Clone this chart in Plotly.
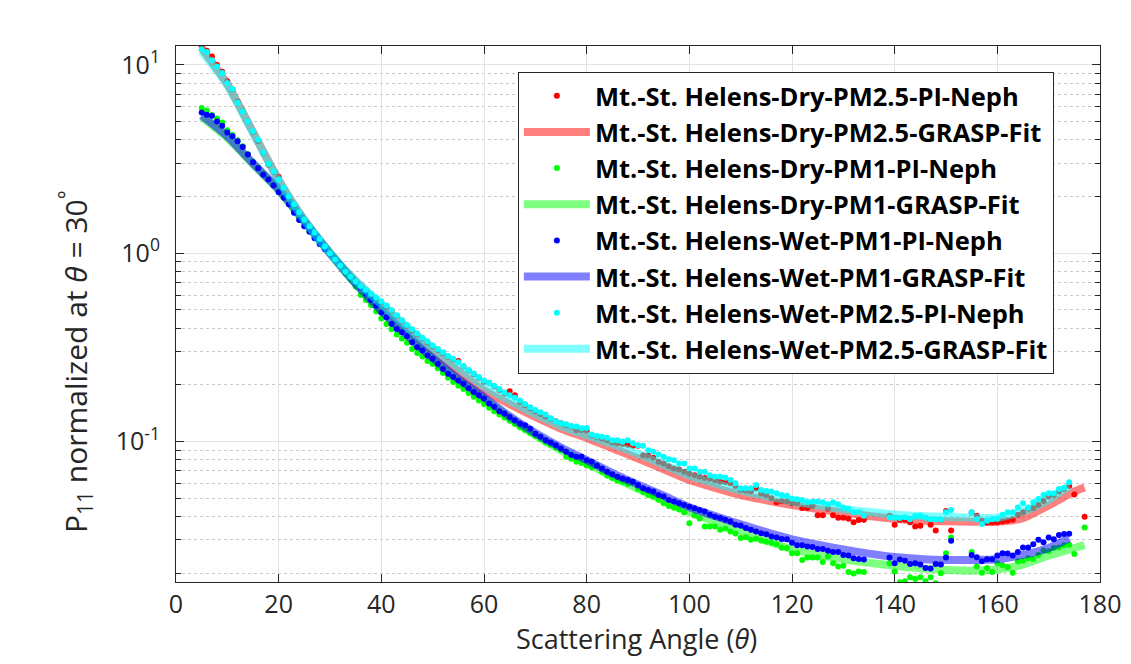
import plotly.graph_objects as go

# ---------------- data ----------------
ang_wet = list(range(5, 135)) + list(range(139, 152)) + list(range(155, 175))
ang_dry = ang_wet + [175, 177]

dry_pm25 = [12.6, 11.9, 11.1, 10.0, 9.2, 8.2, 7.4, 6.4, 5.7, 5.0, 4.4, 3.95, 3.4, 2.95, 2.7, 2.55, 2.22, 2.0, 1.81, 1.64, 1.5, 1.38, 1.28, 1.18, 1.08, 1.0,
            0.92, 0.86, 0.80, 0.75, 0.70, 0.665, 0.635, 0.605, 0.575, 0.55,
            0.52, 0.495, 0.465, 0.438, 0.412, 0.39, 0.37, 0.352, 0.336, 0.32, 0.306, 0.294, 0.282, 0.273, 0.268, 0.25, 0.238, 0.228, 0.218, 0.208,
            0.205, 0.196, 0.188, 0.18, 0.185, 0.176, 0.162, 0.156, 0.15, 0.145, 0.14, 0.136, 0.132, 0.128, 0.125, 0.122, 0.12, 0.1148, 0.115, 0.114,
            0.108, 0.106, 0.1037, 0.102, 0.099, 0.098, 0.097, 0.096, 0.0949, 0.0949, 0.0846, 0.084, 0.082, 0.078, 0.0765, 0.074, 0.072, 0.071, 0.069, 0.0675,
            0.0663, 0.065, 0.064, 0.0632, 0.062, 0.0612, 0.061, 0.060, 0.058, 0.0555, 0.055, 0.0545, 0.0564, 0.053, 0.052, 0.050, 0.0476, 0.0482, 0.048, 0.047,
            0.047, 0.0443, 0.0443, 0.0455, 0.0406, 0.0406, 0.044, 0.0406, 0.0394, 0.0394, 0.0389, 0.0373, 0.0383, 0.0384,
            0.0404, 0.0361, 0.0384, 0.0384, 0.0373, 0.0354, 0.0357, 0.0392, 0.0361, 0.0337, 0.0384, 0.0428, 0.0337,
            0.042, 0.0404, 0.038, 0.0372, 0.0372, 0.0373, 0.0376, 0.038, 0.0384, 0.0408, 0.0421, 0.0439, 0.0443, 0.046, 0.0483, 0.0509, 0.052, 0.0542, 0.056, 0.058, 0.0524,
            0.0399]

dry_pm1 = [5.90, 5.73, 5.42, 5.2, 4.95, 4.5, 4.25, 3.98, 3.7, 3.35, 3.06, 2.85, 2.63, 2.47, 2.3, 2.12, 1.98, 1.83, 1.66, 1.52, 1.40, 1.31, 1.21, 1.12, 1.06, 1.0,
           0.94, 0.86, 0.78, 0.725, 0.665, 0.6, 0.565, 0.53, 0.49, 0.45,
           0.421, 0.395, 0.37, 0.352, 0.335, 0.31, 0.295, 0.283, 0.268, 0.258, 0.245, 0.231, 0.218, 0.207, 0.198, 0.19, 0.181, 0.173, 0.165, 0.158,
           0.151, 0.145, 0.139, 0.134, 0.129, 0.124, 0.119, 0.115, 0.111, 0.107, 0.103, 0.099, 0.096, 0.093, 0.09, 0.083,
           0.081, 0.078, 0.077, 0.0745, 0.073, 0.075, 0.069, 0.066, 0.064, 0.062, 0.061, 0.0595, 0.061, 0.056, 0.054, 0.052, 0.051, 0.049, 0.047, 0.0455, 0.0445, 0.0435, 0.042, 0.0368,
           0.0405, 0.039, 0.0354, 0.0354, 0.0354, 0.034, 0.0345, 0.0333, 0.0325, 0.0307, 0.031, 0.0301, 0.0305, 0.0298, 0.0294, 0.029, 0.0285, 0.0273, 0.0272, 0.0255,
           0.0255, 0.0235, 0.0242, 0.0242, 0.0242, 0.0229, 0.0245, 0.0226, 0.0217, 0.0219, 0.0203, 0.0199, 0.0204, 0.0203,
           0.0226, 0.0204, 0.0179, 0.0181, 0.019, 0.0186, 0.019, 0.0181, 0.019, 0.0177, 0.02, 0.0255, 0.0309,
           0.0259, 0.0217, 0.0201, 0.0213, 0.0203, 0.0226, 0.022, 0.0215, 0.0201, 0.0231, 0.0233, 0.024, 0.0238, 0.025, 0.0264, 0.0261, 0.0272, 0.0274, 0.0281, 0.0283, 0.0253,
           0.0349]

wet_pm1 = [5.59, 5.44, 5.37, 5.01, 4.76, 4.38, 4.18, 3.93, 3.67, 3.34, 3.04, 2.83, 2.61, 2.46, 2.29, 2.11, 1.97, 1.82, 1.64, 1.50, 1.39, 1.30, 1.2, 1.12, 1.05, 0.995,
           0.93, 0.865, 0.805, 0.75, 0.70, 0.655, 0.61, 0.565, 0.526, 0.485,
           0.457, 0.421, 0.396, 0.380, 0.362, 0.337, 0.317, 0.304, 0.286, 0.275, 0.259, 0.243, 0.229, 0.22, 0.211, 0.203, 0.192, 0.183, 0.176, 0.169,
           0.159, 0.153, 0.145, 0.1407, 0.135, 0.1297, 0.1245, 0.122, 0.117, 0.110, 0.106, 0.1016, 0.0988, 0.0956, 0.0918, 0.0882, 0.0847, 0.083, 0.083, 0.0796,
           0.078, 0.0743, 0.072, 0.0691, 0.0671, 0.065, 0.0637, 0.0624, 0.0612, 0.0588, 0.0564, 0.0553, 0.0542, 0.052, 0.051, 0.0489, 0.048, 0.047, 0.046, 0.0451,
           0.0442, 0.0433, 0.0425, 0.0408, 0.0399, 0.0392, 0.0384, 0.0376, 0.0361, 0.0358, 0.0347, 0.034, 0.0333, 0.0326, 0.0322, 0.0313, 0.0309, 0.0304, 0.0303, 0.029,
           0.0281, 0.0281, 0.0277, 0.0275, 0.0269, 0.0269, 0.0263, 0.0259, 0.0259, 0.025, 0.0248, 0.024, 0.0238, 0.0236,
           0.0242, 0.0226, 0.0236, 0.0233, 0.0224, 0.0226, 0.0222, 0.0213, 0.0212, 0.0224, 0.0222, 0.0242, 0.0297,
           0.025, 0.0243, 0.0231, 0.0237, 0.0237, 0.0248, 0.0255, 0.0254, 0.0248, 0.0259, 0.0274, 0.0274, 0.0285, 0.0301, 0.0292, 0.0309, 0.0303, 0.0319, 0.0323, 0.0324]

wet_pm25 = [12.1, 11.7, 10.6, 9.8, 9.07, 8.0, 7.44, 6.3, 5.66, 5.01, 4.44, 4.01, 3.42, 2.98, 2.72, 2.46, 2.23, 2.01, 1.82, 1.65, 1.51, 1.39, 1.29, 1.19, 1.085, 1.0,
            0.925, 0.86, 0.80, 0.75, 0.705, 0.67, 0.64, 0.61, 0.582, 0.555,
            0.528, 0.50, 0.468, 0.44, 0.416, 0.395, 0.375, 0.356, 0.340, 0.324, 0.31, 0.298, 0.285, 0.275, 0.264, 0.252, 0.24, 0.23, 0.22, 0.211,
            0.205, 0.198, 0.19, 0.182, 0.176, 0.171, 0.165, 0.158, 0.152, 0.147, 0.143, 0.139, 0.133, 0.128, 0.125, 0.1235, 0.121, 0.12, 0.1175, 0.118,
            0.109, 0.107, 0.106, 0.1046, 0.1016, 0.1016, 0.100, 0.1016, 0.098, 0.0956, 0.0949, 0.0899, 0.0882, 0.0853, 0.083, 0.0806, 0.0796, 0.0765, 0.0765, 0.072,
            0.072, 0.0691, 0.0691, 0.0663, 0.065, 0.065, 0.0643, 0.0624, 0.060, 0.0564, 0.0564, 0.0564, 0.0588, 0.0553, 0.0546, 0.0542, 0.0531, 0.052, 0.0516, 0.0499,
            0.0493, 0.0489, 0.0476, 0.048, 0.048, 0.0476, 0.0464, 0.0476, 0.0464, 0.0446, 0.0439, 0.0421, 0.0421, 0.0404,
            0.0396, 0.0394, 0.0392, 0.0396, 0.0387, 0.0402, 0.0404, 0.0392, 0.0387, 0.0387, 0.0384, 0.0421, 0.0433,
            0.0421, 0.0387, 0.0365, 0.038, 0.0387, 0.0389, 0.0408, 0.0421, 0.0421, 0.0446, 0.047, 0.0446, 0.0476, 0.0495, 0.052, 0.0531, 0.0531, 0.056, 0.0569, 0.0607]

# GRASP fits
fit_ang_dry = [5, 10, 15, 20, 25, 30, 35, 40, 45, 50, 55, 60, 65, 70, 75, 80, 85, 90, 95, 100, 105, 110, 115, 120,
               125, 130, 135, 140, 145, 150, 155, 160, 165, 170, 175, 177]
fit_ang_wet = [5, 10, 15, 20, 25, 30, 35, 40, 45, 50, 55, 60, 65, 70, 75, 80, 85, 90, 95, 100, 105, 110, 115, 120,
               125, 130, 135, 140, 145, 150, 155, 160, 165, 170, 174]

fit_dry_pm25 = [12.3, 7.9, 4.4, 2.45, 1.5, 1.0, 0.71, 0.528, 0.398, 0.305, 0.236, 0.187, 0.158, 0.135, 0.117, 0.1045, 0.0922, 0.0813,
                0.0711, 0.0624, 0.0567, 0.052, 0.0488, 0.046, 0.0438, 0.042, 0.0402, 0.0389, 0.0381, 0.0377, 0.0375, 0.0375,
                0.0392, 0.0458, 0.0543, 0.057]
fit_dry_pm1 = [5.3, 4.1, 2.97, 2.16, 1.47, 1.0, 0.685, 0.49, 0.363, 0.274, 0.212, 0.169, 0.133, 0.108, 0.090, 0.077, 0.065, 0.056,
               0.0485, 0.0423, 0.0375, 0.0335, 0.0298, 0.0268, 0.025, 0.0237, 0.0227, 0.0219, 0.0212, 0.0208, 0.0206, 0.0209,
               0.0222, 0.0248, 0.0272, 0.0282]
fit_wet_pm1 = [5.4, 4.18, 3.0, 2.18, 1.48, 1.0, 0.69, 0.495, 0.368, 0.278, 0.215, 0.172, 0.136, 0.111, 0.093, 0.0797, 0.068, 0.059,
               0.0515, 0.0448, 0.0402, 0.0363, 0.033, 0.0302, 0.0283, 0.0267, 0.0254, 0.0244, 0.0238, 0.0235, 0.0235, 0.0237,
               0.025, 0.0272, 0.0307]
fit_wet_pm25 = [11.8, 7.8, 4.35, 2.44, 1.5, 1.0, 0.715, 0.535, 0.405, 0.313, 0.247, 0.197, 0.165, 0.14, 0.121, 0.108, 0.097, 0.086,
                0.0755, 0.066, 0.060, 0.055, 0.0513, 0.048, 0.0458, 0.0438, 0.0422, 0.041, 0.0402, 0.0398, 0.0395, 0.0394,
                0.0425, 0.049, 0.058]

names = ["Mt.-St. Helens-Dry-PM2.5-PI-Neph", "Mt.-St. Helens-Dry-PM2.5-GRASP-Fit",
         "Mt.-St. Helens-Dry-PM1-PI-Neph", "Mt.-St. Helens-Dry-PM1-GRASP-Fit",
         "Mt.-St. Helens-Wet-PM1-PI-Neph", "Mt.-St. Helens-Wet-PM1-GRASP-Fit",
         "Mt.-St. Helens-Wet-PM2.5-PI-Neph", "Mt.-St. Helens-Wet-PM2.5-GRASP-Fit"]

x_ticks = [0, 20, 40, 60, 80, 100, 120, 140, 160, 180]
y_ticks = [0.1, 1, 10]
y_ticktext = ["10<sup>-1</sup>", "10<sup>0</sup>", "10<sup>1</sup>"]
y_minor = [m * d for d in (0.01, 0.1, 1) for m in range(2, 10)]
x_title = "Scattering Angle (<i>θ</i>)"
y_title = "P<sub>11</sub> normalized at <i>θ</i> = 30<sup>°</sup>"

# ---------------- figure ----------------
FONT = "Open Sans"
fig = go.Figure()

series = [
    (ang_dry, dry_pm25, fit_ang_dry, fit_dry_pm25, "#ff0000", "rgba(255,0,0,0.5)"),
    (ang_dry, dry_pm1, fit_ang_dry, fit_dry_pm1, "#00ff00", "rgba(0,255,0,0.5)"),
    (ang_wet, wet_pm1, fit_ang_wet, fit_wet_pm1, "#0000ff", "rgba(0,0,255,0.5)"),
    (ang_wet, wet_pm25, fit_ang_wet, fit_wet_pm25, "#00ffff", "rgba(0,255,255,0.5)"),
]
for i, (ax, ay, fx, fy, mc, lc) in enumerate(series):
    fig.add_trace(go.Scatter(x=ax, y=ay, mode="markers", name=names[2 * i],
                             marker=dict(color=mc, size=6, line=dict(width=0))))
    fig.add_trace(go.Scatter(x=fx, y=fy, mode="lines", name=names[2 * i + 1],
                             line=dict(color=lc, width=8, shape="spline", smoothing=0.6)))

axis_col = "#262626"
fig.update_layout(
    width=1115, height=648,
    paper_bgcolor="white", plot_bgcolor="white",
    margin=dict(l=168, r=23, t=38, b=74),
    font=dict(family=FONT, size=24, color=axis_col),
    showlegend=True,
    legend=dict(x=0.370, y=0.952, xanchor="left", yanchor="top",
                bgcolor="white", bordercolor=axis_col, borderwidth=1,
                font=dict(family=FONT, size=25.5, color="black", weight=700),
                itemwidth=66, traceorder="normal", tracegroupgap=0),
    xaxis=dict(range=[0, 180], tickvals=x_ticks, ticks="inside", ticklen=8, tickcolor=axis_col,
               showline=True, linecolor=axis_col, linewidth=1.2, mirror="allticks",
               showgrid=True, gridcolor="#e3e3e3", gridwidth=1, zeroline=False,
               automargin=False, ticklabeloverflow="allow",
               tickfont=dict(size=25, color=axis_col)),
    yaxis=dict(type="log", range=[-1.746, 1.1005], tickvals=y_ticks, ticktext=y_ticktext,
               ticks="inside", ticklen=8, tickcolor=axis_col, ticklabelstandoff=10,
               showline=True, linecolor=axis_col, linewidth=1.2, mirror="allticks",
               showgrid=True, gridcolor="#e3e3e3", gridwidth=1, zeroline=False,
               automargin=False,
               tickfont=dict(size=25, color=axis_col),
               minor=dict(tickvals=y_minor, ticks="inside", ticklen=5, tickcolor=axis_col,
                          showgrid=True, gridcolor="#c8c8c8", griddash="dot", gridwidth=1)),
    annotations=[
        dict(text=x_title, xref="paper", yref="paper", x=0.4984, y=-0.1063,
             xanchor="center", yanchor="middle", showarrow=False,
             font=dict(family=FONT, size=27, color=axis_col)),
        dict(text=y_title, xref="paper", yref="paper", x=-0.1093, y=0.4104,
             xanchor="center", yanchor="middle", showarrow=False, textangle=-90,
             font=dict(family=FONT, size=30, color=axis_col)),
    ],
)

fig.write_html("out.html")
